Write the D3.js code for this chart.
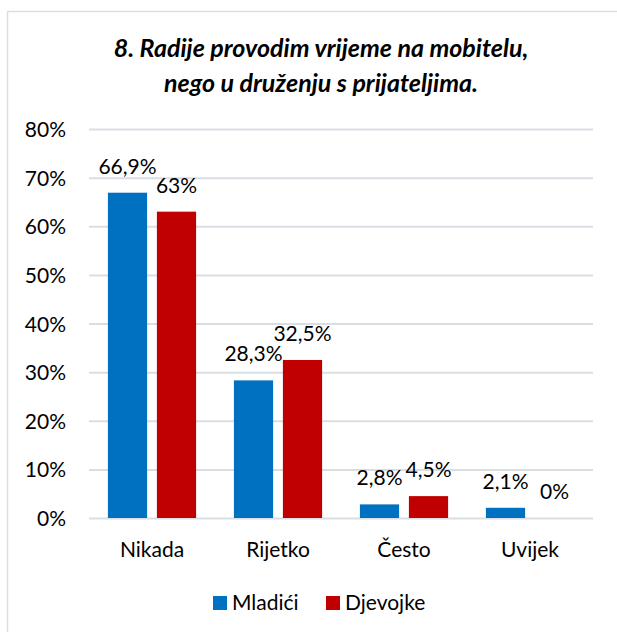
<!DOCTYPE html>
<html>
<head>
<meta charset="utf-8">
<script src="https://cdn.jsdelivr.net/npm/d3@7"></script>
<style>
  html, body { margin: 0; padding: 0; background: #fff; }
  svg { display: block; }
  text { font-family: Lato, "Open Sans", sans-serif; fill: #000; }
</style>
</head>
<body>
<svg id="chart" width="617" height="632"></svg>
<script>
const categories = ["Nikada", "Rijetko", "Često", "Uvijek"];
const seriesNames = ["Mladići", "Djevojke"];
const mladici = [66.9, 28.3, 2.8, 2.1];
const djevojke = [63, 32.5, 4.5, 0];
const valueLabels = [["66,9%", "28,3%", "2,8%", "2,1%"], ["63%", "32,5%", "4,5%", "0%"]];
const yTicks = [0, 10, 20, 30, 40, 50, 60, 70, 80];
const colors = ["#0070C0", "#C00000"];
const titleLines = ["8. Radije provodim vrijeme na mobitelu,", "nego u druženju s prijateljima."];

const svg = d3.select("#chart");

// chart area frame
svg.append("rect")
  .attr("x", 7.5).attr("y", 11.5)
  .attr("width", 640).attr("height", 660)
  .attr("fill", "#fff").attr("stroke", "#D9DEE5").attr("stroke-width", 1.5);

// title
svg.append("g").selectAll("text").data(titleLines).join("text")
  .attr("x", 321).attr("y", (d, i) => 57 + i * 35)
  .attr("text-anchor", "middle")
  .style("font-size", "25px").style("font-weight", "bold").style("font-style", "italic")
  .text(d => d);

const plot = { left: 89, right: 593, top: 129, bottom: 518 };

const y = d3.scaleLinear().domain([0, 80]).range([plot.bottom, plot.top]);
const x0 = d3.scaleBand().domain(categories).range([plot.left, plot.right]).paddingInner(0.3).paddingOuter(0.15);
const x1 = d3.scaleBand().domain(seriesNames).range([0, x0.bandwidth()]).paddingInner(0.2);

// gridlines
svg.append("g")
  .attr("transform", `translate(${plot.left},0)`)
  .call(d3.axisLeft(y).tickValues(yTicks).tickSize(-(plot.right - plot.left)).tickFormat(""))
  .call(g => g.select(".domain").remove())
  .call(g => g.selectAll(".tick line").attr("stroke", "#D9DEE5").attr("stroke-width", 2));

// y axis labels
svg.append("g")
  .attr("transform", `translate(66,0)`)
  .call(d3.axisLeft(y).tickValues(yTicks).tickSize(0).tickPadding(0).tickFormat(d => d + "%"))
  .call(g => g.select(".domain").remove())
  .call(g => g.selectAll("text").style("font-size", "21px").attr("font-family", null).attr("fill", "#000").attr("dy", "0.36em"));

// x axis labels
svg.append("g")
  .attr("transform", `translate(0,${plot.bottom})`)
  .call(d3.axisBottom(x0).tickSize(0).tickPadding(0))
  .call(g => g.select(".domain").remove())
  .call(g => g.selectAll("text").style("font-size", "21px").attr("font-family", null).attr("fill", "#000").attr("dy", "1.85em"));

const series = [mladici, djevojke];
const groups = svg.append("g").selectAll("g").data(series).join("g")
  .attr("fill", (d, i) => colors[i]);

groups.each(function (vals, si) {
  const g = d3.select(this);
  g.selectAll("rect").data(vals).join("rect")
    .attr("x", (d, i) => x0(categories[i]) + x1(seriesNames[si]))
    .attr("y", d => y(d))
    .attr("width", x1.bandwidth())
    .attr("height", d => plot.bottom - y(d));
  g.selectAll("text").data(vals).join("text")
    .attr("x", (d, i) => x0(categories[i]) + x1(seriesNames[si]) + x1.bandwidth() / 2)
    .attr("y", d => y(d) - 19)
    .attr("text-anchor", "middle")
    .style("font-size", "21px")
    .text((d, i) => valueLabels[si][i]);
});

// legend
const legend = svg.append("g").attr("transform", "translate(213,596)");
const items = legend.selectAll("g").data(seriesNames).join("g")
  .attr("transform", (d, i) => `translate(${i === 0 ? 0 : 113},0)`);
items.append("rect").attr("width", 14).attr("height", 14).attr("fill", (d, i) => colors[i]);
items.append("text").attr("x", 19).attr("y", 14).style("font-size", "21px").text(d => d);
</script>
</body>
</html>
